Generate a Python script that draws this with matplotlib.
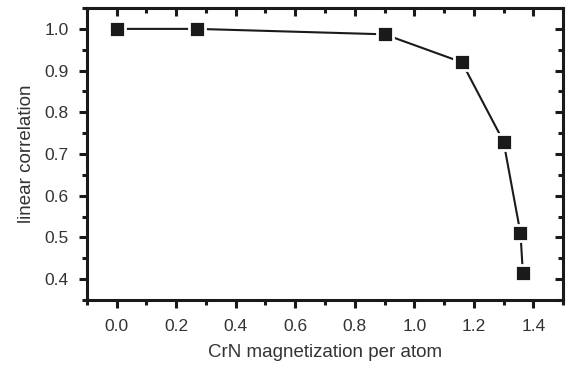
import numpy as np
import matplotlib.pyplot as plt
from matplotlib.ticker import MultipleLocator

# data
magnetization = [0.0, 0.27, 0.90, 1.16, 1.30, 1.357, 1.365]
correlation = [1.0, 1.0, 0.987, 0.92, 0.73, 0.51, 0.415]

plt.rcParams['font.family'] = ['Liberation Sans', 'DejaVu Sans']

fig = plt.figure(figsize=(5.67, 3.65), dpi=100)
ax = fig.add_axes([0.1534, 0.178, 0.8396, 0.800])

ax.plot(magnetization, correlation, color='#1a1a1a', lw=1.5,
        marker='s', ms=12, mfc='#1a1a1a', mec='white', mew=2.0)

ax.set_xlim(-0.1, 1.5)
ax.set_ylim(0.35, 1.05)
xt = np.arange(0, 1.41, 0.2)
yt = np.arange(0.4, 1.01, 0.1)
ax.set_xticks(xt)
ax.set_yticks(yt)
ax.xaxis.set_minor_locator(MultipleLocator(0.1))
ax.yaxis.set_minor_locator(MultipleLocator(0.05))

for s in ax.spines.values():
    s.set_linewidth(2.2)
    s.set_color('#1a1a1a')

ax.tick_params(which='both', width=2.2, color='#1a1a1a', labelsize=12.5, labelcolor='#333333',
               direction='out', top=False, right=False)
ax.tick_params(which='major', length=6)
ax.tick_params(which='minor', length=3.5)
ax.tick_params(axis='x', which='both', pad=8)
ax.tick_params(axis='y', which='both', pad=7)

# inward ticks on top and right
ax2 = ax.secondary_xaxis('top')
ax2.set_xticks(xt)
ax2.xaxis.set_minor_locator(MultipleLocator(0.1))
ax2.tick_params(which='both', direction='in', width=2.2, color='#1a1a1a', labeltop=False)
ax2.tick_params(which='major', length=6)
ax2.tick_params(which='minor', length=3.5)
ax2.spines['top'].set_visible(False)
ax3 = ax.secondary_yaxis('right')
ax3.set_yticks(yt)
ax3.yaxis.set_minor_locator(MultipleLocator(0.05))
ax3.tick_params(which='both', direction='in', width=2.2, color='#1a1a1a', labelright=False)
ax3.tick_params(which='major', length=6)
ax3.tick_params(which='minor', length=3.5)
ax3.spines['right'].set_visible(False)

ax.set_xlabel('CrN magnetization per atom', fontsize=13.5, color='#333333', labelpad=7)
ax.set_ylabel('linear correlation', fontsize=13.5, color='#333333', labelpad=7)

fig.savefig('out.png', dpi=100)
